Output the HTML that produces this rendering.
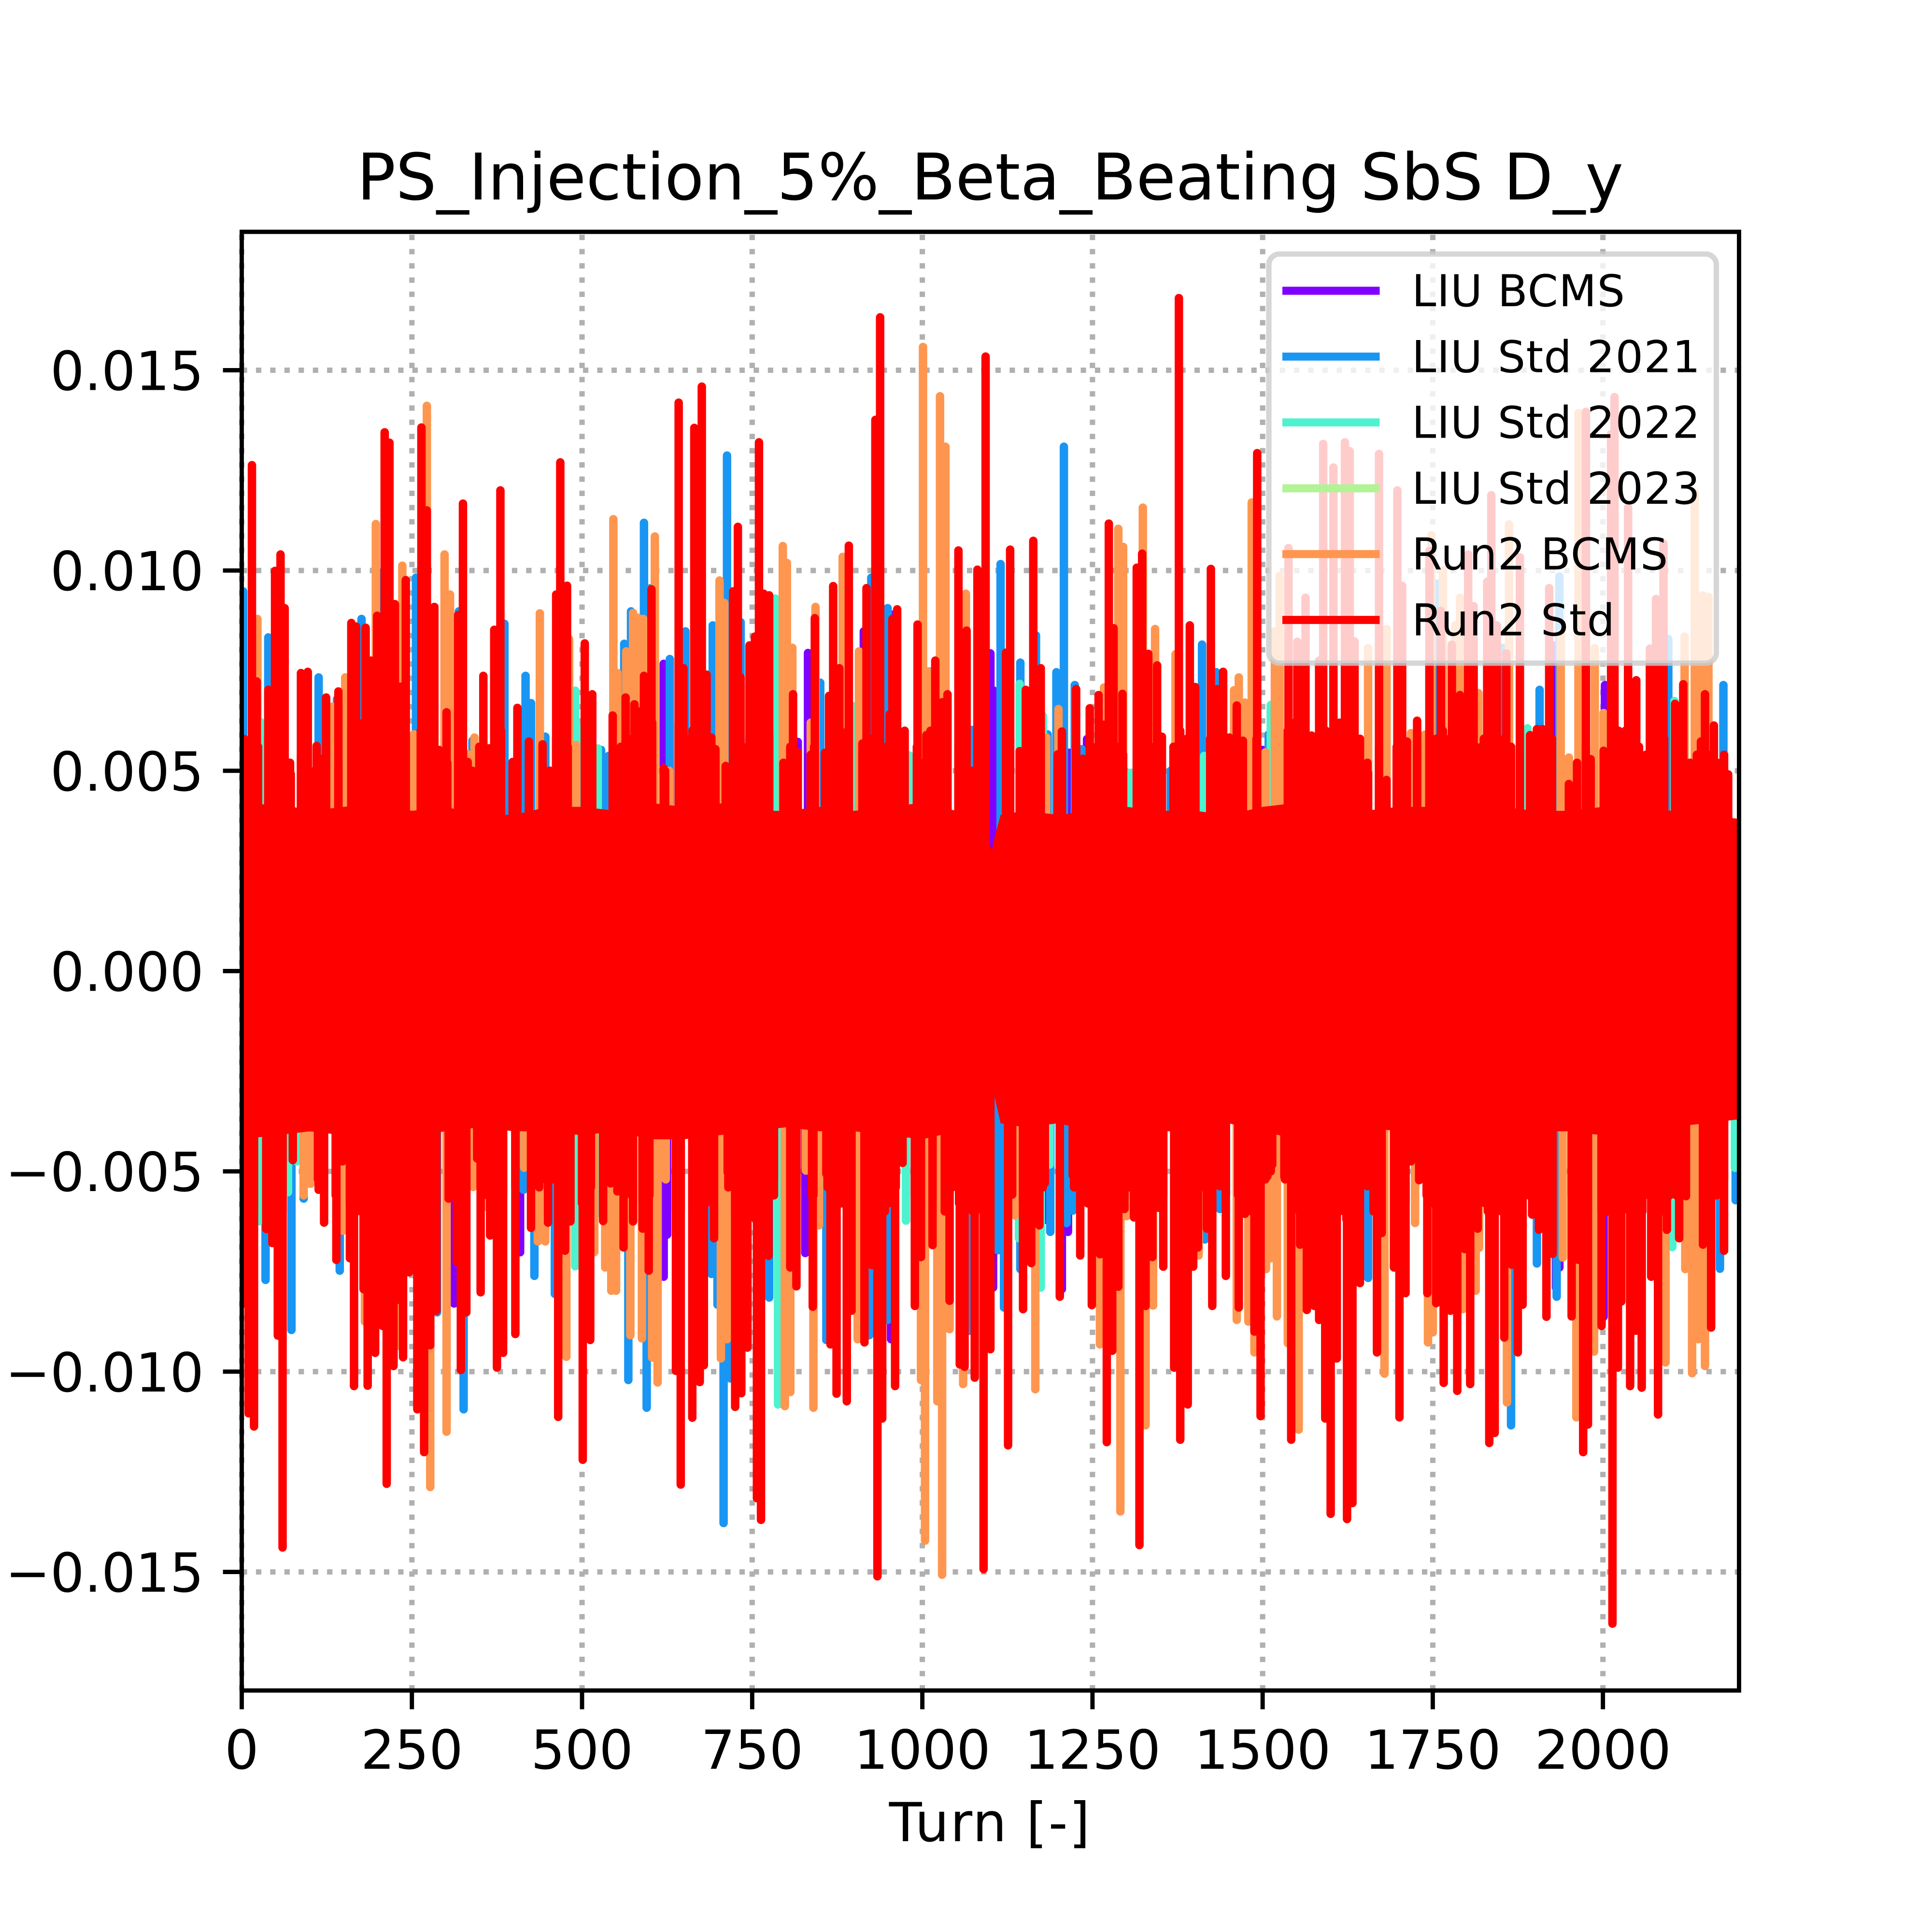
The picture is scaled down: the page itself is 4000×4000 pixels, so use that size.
<!DOCTYPE html>
<html lang="en">
<head>
<meta charset="utf-8">
<title>PS_Injection_5%_Beta_Beating SbS D_y</title>
<style>
html,body{margin:0;padding:0;background:#fff}
svg{display:block}
text{font-family:"DejaVu Sans","Liberation Sans",sans-serif;fill:#000}
</style>
</head>
<body>
<svg id="chart" xmlns="http://www.w3.org/2000/svg" width="4000" height="4000" viewBox="0 0 4000 4000">
<defs><clipPath id="plot-clip"><rect x="500.5" y="480" width="3100" height="3020"/></clipPath></defs>
<rect x="0" y="0" width="4000" height="4000" fill="#fff"/>
<g id="grid"></g>
<g id="series" clip-path="url(#plot-clip)"></g>
<g id="ticks"></g>
<rect x="500.5" y="480" width="3100" height="3020" fill="none" stroke="#000" stroke-width="8.89"/>
<text x="2050" y="413" font-size="133.3" text-anchor="middle">PS_Injection_5%_Beta_Beating SbS D_y</text>
<text x="2050" y="3812" font-size="111.1" letter-spacing="2.6" text-anchor="middle">Turn [-]</text>
<g>
<rect x="2627" y="526" width="926.5" height="847" rx="22" ry="22" fill="#fff" fill-opacity="0.8" stroke="#ccc" stroke-opacity="0.8" stroke-width="11.1"/>
<g><line x1="2655" x2="2856.5" y1="602" y2="602" stroke="#8000ff" stroke-width="16.67"/><text x="2923" y="634" font-size="90.5" letter-spacing="1.4">LIU BCMS</text></g>
<g><line x1="2655" x2="2856.5" y1="738.3" y2="738.3" stroke="#1996f3" stroke-width="16.67"/><text x="2923" y="770.3" font-size="90.5" letter-spacing="1.4">LIU Std 2021</text></g>
<g><line x1="2655" x2="2856.5" y1="874.6" y2="874.6" stroke="#4df3ce" stroke-width="16.67"/><text x="2923" y="906.6" font-size="90.5" letter-spacing="1.4">LIU Std 2022</text></g>
<g><line x1="2655" x2="2856.5" y1="1011" y2="1011" stroke="#b2f396" stroke-width="16.67"/><text x="2923" y="1043" font-size="90.5" letter-spacing="1.4">LIU Std 2023</text></g>
<g><line x1="2655" x2="2856.5" y1="1147.2" y2="1147.2" stroke="#ff964f" stroke-width="16.67"/><text x="2923" y="1179.2" font-size="90.5" letter-spacing="1.4">Run2 BCMS</text></g>
<g><line x1="2655" x2="2856.5" y1="1283.5" y2="1283.5" stroke="#ff0000" stroke-width="16.67"/><text x="2923" y="1315.5" font-size="90.5" letter-spacing="1.4">Run2 Std</text></g>
</g>
</svg>
<script>
const xTickValues = [0,250,500,750,1000,1250,1500,1750,2000];
const xTickLabels = ["0","250","500","750","1000","1250","1500","1750","2000"];
const yTickValues = [0.015,0.010,0.005,0,-0.005,-0.010,-0.015];
const yTickLabels = ["0.015","0.010","0.005","0.000","\u22120.005","\u22120.010","\u22120.015"];

// Peaks: turn of each excursion and its value.
const run2StdTurns = [
4,15,22,39,49,57,63,72,87,97,110,116,124,142,161,168,182,190,199,210,217,225,233,241,264,272,283,290,301,318,325,332,342,355,363,371,380,398,405,422,442,453,462,468,478,504,515,545,
564,577,585,591,602,620,642,649,665,676,683,690,696,711,722,729,733,746,754,760,767,775,810,817,842,857,863,869,878,892,912,918,931,938,952,956,963,974,993,1006,1019,1029,1037,1053,1065,1081,1093,
1123,1129,1143,1152,1163,1174,1199,1205,1226,1246,1259,1267,1274,1281,1294,1315,1323,1332,1345,1352,1377,1393,1401,1424,1433,1442,1451,1462,1471,1492,1538,1551,1563,1572,1583,1589,1604,1621,1628,1635,
1655,1671,1682,1698,1705,1712,1727,1745,1762,1778,1790,1802,1810,1818,1830,1836,1844,1858,1878,1893,1903,1911,1921,1950,1975,1982,2001,2012,2017,2037,2049,2069,2078,2089,2106,2118,2144,2150,2163,2184,
2,10,18,36,45,53,60,75,113,121,139,148,159,165,179,185,196,207,213,223,228,237,246,258,268,277,286,304,316,322,330,346,351,365,375,384,402,425,439,450,465,475,483,501,512,531,543,
561,575,589,598,638,645,662,673,679,694,714,725,734,743,757,763,774,782,806,815,839,859,865,874,889,896,915,926,934,941,960,971,989,998,1015,1033,1040,1055,1062,1077,1090,
1100,1126,1132,1148,1160,1172,1180,1202,1221,1232,1249,1261,1271,1279,1288,1297,1311,1319,1328,1338,1347,1354,1370,1379,1390,1398,1405,1418,1426,1437,1446,1465,1474,1488,1497,1507,1514,1532,1542,1555,1565,1576,1583,1592,1600,1609,1624,1632,1643,
1654,1668,1675,1693,1701,1710,1718,1730,1742,1755,1766,1776,1786,1797,1805,1816,1826,1833,1841,1855,1866,1875,1882,1896,1906,1917,1926,1954,1964,1971,1978,1998,2014,2022,2027,2040,2048,2057,2071,2081,2094,2112,2122,2147,2159,2178
];
const run2StdValues = [
.00579,.01263,.00723,.00702,.00999,.0104,.00906,.00492,.00744,.00747,.00562,.0053,.00683,.00698,.00869,.0086,.00857,.00775,.00887,.01345,.01319,.00916,.0071,.00976,.01357,.0115,.00909,.00552,.00646,.00889,.01167,.00522,.00492,.00737,.00556,.00852,.012,.00522,.00657,.00573,.00566,.005,.0094,.0127,.00962,.00818,.00691,.00638,
.00683,.00666,.00648,.00737,.00953,.00506,.01419,.00756,.01356,.01459,.0074,.00583,.00554,.00512,.00948,.01109,.00733,.00813,.00835,.0132,.00942,.00938,.00691,.00546,.00881,.00545,.00687,.00961,.00756,.01062,.00568,.00956,.01376,.01632,.00641,.00879,.00903,.006,.00865,.00589,.00775,.00671,.00691,.0105,.0085,.01002,.01534,
.00795,.01052,.00549,.00702,.01074,.00756,.00541,.00598,.00704,.00656,.00689,.00615,.01117,.00856,.00692,.01007,.01042,.00792,.00763,.00585,.0168,.00863,.00709,.01004,.00704,.00747,.00583,.00663,.00575,.01293,.01056,.00822,.00932,.00588,.00775,.01316,.01257,.0132,.01298,.00823,
.00495,.01291,.00477,.012,.00962,.00573,.00625,.01049,.00899,.00815,.00689,.0104,.00911,.00558,.00972,.01188,.00863,.00793,.01033,.00589,.00604,.00604,.00956,.00467,.01396,.00529,.0055,.0134,.01433,.01157,.00726,.00805,.00929,.01067,.00667,.00716,.00573,.00691,.00613,.00491,
-.0083,-.01104,-.01137,-.00644,-.00679,-.0091,-.01439,-.00472,-.00546,-.00628,-.00721,-.00475,-.00717,-.01036,-.00794,-.01035,-.00953,-.00886,-.0128,-.00986,-.00821,-.00964,-.00752,-.01094,-.01201,-.00934,-.00848,-.00568,-.00725,-.00996,-.00852,-.00468,-.00802,-.0066,-.0099,-.00953,-.00906,-.00641,-.00522,-.00628,-.01113,-.00698,-.00625,-.0122,-.00921,-.00624,-.00491,
-.0069,-.00625,-.00643,-.00748,-.00998,-.01282,-.01115,-.01026,-.00984,-.00667,-.00502,-.01088,-.01054,-.0094,-.01316,-.0137,-.00711,-.0056,-.0074,-.00787,-.00838,-.00506,-.00932,-.01055,-.01074,-.00848,-.00927,-.00734,-.01511,-.01117,-.01036,-.00479,-.00836,-.00714,-.00684,-.006,-.00823,-.00982,-.00988,-.01015,-.01493,
-.00944,-.01184,-.00558,-.00844,-.00729,-.00635,-.00529,-.00813,-.0051,-.0071,-.00834,-.00707,-.01176,-.00948,-.00788,-.00594,-.00615,-.01433,-.00836,-.00714,-.00591,-.00738,-.0099,-.0117,-.01082,-.00738,-.0069,-.00643,-.00836,-.00537,-.00761,-.0084,-.00606,-.009,-.01111,-.00512,-.00483,-.00514,-.0117,-.00683,-.00846,-.00836,-.00871,-.01117,-.01355,-.00967,-.01368,-.01328,-.00779,
-.00537,-.00952,-.00654,-.0074,-.01114,-.00804,-.00475,-.00522,-.00804,-.00829,-.01028,-.00848,-.01048,-.00694,-.01031,-.00643,-.00579,-.01178,-.01153,-.00915,-.00733,-.00952,-.00833,-.00608,-.00646,-.00863,-.00706,-.00862,-.00721,-.01201,-.01132,-.00886,-.01629,-.0099,-.00825,-.01036,-.00898,-.0104,-.00763,-.01107,-.00646,-.00667,-.00562,-.00683,-.0089,-.00698
];

// Shorter Run2 Std excursions: the shoulders around the solid core, top then bottom.
const run2StdShoulderTurns = [
7,17,24,39,49,59,71,87,97,107,123,142,161,171,181,191,201,211,221,231,240,263,273,283,293,302,319,329,339,349,359,369,381,402,422,442,452,462,472,479,504,514,
547,557,567,577,587,597,603,622,642,652,662,672,682,696,713,723,733,743,753,763,775,796,806,817,836,841,858,868,878,890,912,922,932,942,952,962,973,992,1002,1012,1022,1036,1053,1063,1073,1083,1092,
1123,1129,1145,1155,1165,1174,1199,1205,1226,1236,1246,1256,1266,1276,1286,1295,1316,1326,1336,1351,1369,1379,1389,1400,1423,1433,1443,1453,1469,1491,1537,1547,1563,
1583,1593,1603,1613,1623,1633,1643,1654,1671,1697,1705,1727,1745,1755,1765,1775,1785,1795,1805,1815,1825,1835,1845,1855,1865,1878,1894,1904,1914,1925,1962,1975,2003,2013,2023,2033,2043,2053,2063,2073,2083,2090,2108,2118,2128,2138,2148,2158,2168,2178,
7,18,37,47,60,112,120,138,159,169,179,189,199,209,219,229,244,261,271,286,306,316,328,351,361,371,384,402,427,437,447,457,467,481,500,513,
532,542,552,562,573,589,599,638,645,662,672,682,692,715,725,735,745,755,765,782,806,815,838,840,861,871,881,894,915,925,935,945,955,961,989,996,1015,1034,1044,1054,1064,1074,1089,
1126,1131,1148,1158,1168,1177,1202,1223,1233,1243,1253,1263,1273,1283,1293,1303,1313,1323,1333,1343,1354,1373,1383,1393,1403,1413,1423,1433,1446,1464,1474,1484,1494,1504,1512,
1533,1543,1553,1563,1573,1583,1593,1603,1613,1623,1633,1643,1653,1663,1674,1695,1710,1731,1741,1751,1761,1771,1781,1791,1801,1811,1821,1831,1841,1851,1861,1871,1881,1891,1901,1911,1924,1954,1964,1978,1998,2008,2018,2028,2038,2048,2058,2068,2078,2088,2098,2108,2120,2147,2157,2167,2178
];
const run2StdShoulderValues = [
.0053,.0051,.0056,.0058,.0055,.0060,.0052,.0054,.0057,.0050,.0053,.0051,.0060,.0062,.0058,.0061,.0059,.0060,.0057,.0062,.0058,.0060,.0058,.0056,.0053,.0052,.0058,.0052,.0050,.0056,.0053,.0054,.0060,.0052,.0053,.0052,.0050,.0058,.0060,.0056,.0056,.0054,
.0052,.0056,.0058,.0060,.0058,.0056,.0062,.0050,.0062,.0058,.0060,.0062,.0058,.0052,.0050,.0060,.0058,.0056,.0060,.0062,.0060,.0052,.0056,.0054,.0054,.0056,.0053,.0056,.0058,.0060,.0055,.0058,.0060,.0056,.0060,.0058,.0054,.0056,.0052,.0060,.0058,.0056,.0056,.0052,.0050,.0054,.0058,
.0056,.0058,.0053,.0055,.0056,.0058,.0052,.0054,.0056,.0053,.0055,.0056,.0054,.0058,.0056,.0054,.0060,.0058,.0056,.0052,.0056,.0060,.0058,.0056,.0058,.0056,.0054,.0052,.0054,.0058,.0060,.0062,.0052,
.0058,.0060,.0060,.0062,.0062,.0060,.0058,.0052,.0056,.0056,.0058,.0056,.0060,.0058,.0060,.0058,.0058,.0060,.0058,.0054,.0058,.0060,.0056,.0058,.0056,.0054,.0056,.0058,.0056,.0058,.0052,.0056,.0052,.0058,.0060,.0060,.0058,.0056,.0054,.0056,.0060,.0058,.0056,.0054,.0052,.0054,.0052,.0054,.0052,.0054,
-.0060,-.0060,-.0058,-.0060,-.0060,-.0052,-.0054,-.0056,-.0058,-.0060,-.0060,-.0060,-.0062,-.0062,-.0060,-.0060,-.0056,-.0058,-.0060,-.0058,-.0056,-.0058,-.0060,-.0054,-.0056,-.0058,-.0056,-.0054,-.0052,-.0054,-.0050,-.0052,-.0058,-.0056,-.0058,-.0054,
-.0052,-.0053,-.0055,-.0054,-.0056,-.0058,-.0056,-.0060,-.0060,-.0060,-.0060,-.0058,-.0056,-.0054,-.0060,-.0058,-.0060,-.0062,-.0062,-.0052,-.0056,-.0054,-.0056,-.0056,-.0054,-.0056,-.0058,-.0056,-.0056,-.0058,-.0062,-.0060,-.0058,-.0054,-.0056,-.0058,-.0058,-.0056,-.0054,-.0058,-.0058,-.0060,-.0060,
-.0056,-.0054,-.0058,-.0056,-.0056,-.0054,-.0056,-.0054,-.0056,-.0058,-.0060,-.0060,-.0060,-.0058,-.0056,-.0054,-.0060,-.0060,-.0056,-.0054,-.0056,-.0060,-.0060,-.0058,-.0056,-.0054,-.0056,-.0052,-.0056,-.0056,-.0054,-.0060,-.0060,-.0052,-.0050,
-.0052,-.0060,-.0056,-.0056,-.0060,-.0060,-.0062,-.0062,-.0060,-.0062,-.0062,-.0058,-.0052,-.0060,-.0056,-.0056,-.0058,-.0052,-.0056,-.0058,-.0060,-.0060,-.0060,-.0058,-.0056,-.0054,-.0052,-.0060,-.0060,-.0060,-.0060,-.0056,-.0058,-.0056,-.0054,-.0056,-.0056,-.0056,-.0056,-.0060,-.0060,-.0060,-.0062,-.0060,-.0058,-.0060,-.0060,-.0056,-.0058,-.0060,-.0056,-.0056,-.0052,-.0056,-.0058,-.0056,-.0052
];

// Solid core of the Run2 Std trace, read as upper and lower edges.
const run2StdCoreTurns = [0,50,100,150,200,250,300,350,400,450,500,550,600,650,700,750,800,850,900,950,1000,1050,1090,1097,1102,1107,1115,1150,1200,1250,1300,1350,1400,1450,1500,1550,1600,1650,1700,1750,1800,1850,1900,1950,2000,2050,2100,2150,2200];
const run2StdCoreTop = [.0041,.0042,.0040,.0041,.0042,.0040,.0041,.0039,.0039,.0041,.0041,.0040,.0042,.0041,.0042,.0040,.0040,.0041,.0040,.0041,.0042,.0040,.0038,.0033,.0030,.0034,.0039,.0040,.0039,.0040,.0041,.0040,.0040,.0039,.0041,.0042,.0041,.0040,.0041,.0041,.0042,.0041,.0040,.0040,.0041,.0041,.0040,.0039,.0038];
const run2StdCoreBottom = [-.0042,-.0041,-.0040,-.0041,-.0042,-.0041,-.0040,-.0039,-.0040,-.0040,-.0041,-.0040,-.0042,-.0042,-.0041,-.0040,-.0039,-.0040,-.0040,-.0041,-.0042,-.0040,-.0037,-.0032,-.0028,-.0032,-.0038,-.0039,-.0038,-.0040,-.0041,-.0040,-.0040,-.0038,-.0040,-.0042,-.0041,-.0039,-.0040,-.0041,-.0042,-.0041,-.0040,-.0040,-.0041,-.0040,-.0039,-.0038,-.0037];

const run2BcmsTurns = [
23,272,197,236,298,306,438,546,152,133,342,253,491,332,481,552,
565,575,582,590,607,628,702,709,795,801,809,843,836,883,907,1001,1008,1026,1034,1064,
1288,1295,1324,1342,1200,1267,1465,1458,1484,1525,1518,1372,1474,1182,1504,
1655,1682,1748,1765,1790,1783,1862,1938,1988,1964,2135,2120,2147,2155,1817,1718,1738,1950,2001,
91,101,149,277,301,340,362,435,446,415,477,518,543,534,232,181,
550,571,588,611,603,623,704,713,798,806,840,829,848,905,998,1004,1022,1029,1040,1060,
1136,1166,1261,1291,1300,1328,1339,1406,1462,1479,1488,1505,1512,1521,1537,1553,
1679,1724,1743,1750,1794,1813,1818,1859,1961,1987,2092,2121,2131,2140,2150,1941
];
const run2BcmsValues = [
.00879,.01411,.01116,.01012,.0104,.0094,.00893,.01128,.00733,.0066,.00583,.00591,.00564,.00541,.00829,.00744,
.00798,.00894,.00882,.00879,.01085,.005,.00975,.00919,.01061,.01019,.00807,.00909,.0062,.01034,.00798,.01558,.00748,.01435,.01309,.00942,
.01104,.01059,.01157,.00854,.00654,.00708,.00733,.00701,.0117,.00986,.00848,.00791,.0067,.00583,.00546,
.00806,.00854,.01088,.01001,.00932,.00863,.01115,.00844,.00806,.01393,.01194,.00835,.00938,.00934,.00694,.00594,.0059,.00533,.00644,
-.0056,-.00531,-.00648,-.01288,-.0115,-.00539,-.00591,-.00675,-.00675,-.00491,-.00963,-.00702,-.00798,-.0074,-.00936,-.00875,
-.00798,-.00909,-.00917,-.01027,-.00965,-.0052,-.00967,-.00919,-.01086,-.01051,-.0109,-.00498,-.00635,-.00919,-.01021,-.01422,-.01074,-.01507,-.00894,-.01031,
-.0061,-.01044,-.00932,-.01349,-.00612,-.01134,-.00835,-.0071,-.00871,-.00875,-.00952,-.00744,-.00717,-.00862,-.00929,-.01145,
-.01005,-.00629,-.00927,-.00902,-.00844,-.00798,-.00691,-.01077,-.01114,-.0095,-.00977,-.00744,-.01004,-.00919,-.00986,-.00715
];

const liuStd2021Turns = [
2,39,113,140,176,386,417,425,446,339,256,319,539,528,209,
572,562,591,601,629,652,692,713,733,850,925,949,1010,1073,
1115,1144,1197,1208,1167,1224,1234,1411,1432,1440,1184,1365,1509,
1756,1852,1907,1936,2096,2177,
35,73,91,144,287,326,414,430,460,
568,595,708,718,690,699,775,859,922,949,1069,
1111,1120,1188,1212,1221,1415,1437,1144,
1655,1865,1903,1932,2172,2195
];
const liuStd2021Values = [
.00948,.00833,.00733,.00679,.00879,.00867,.00737,.00669,.00585,.00575,.00982,.00898,.00537,.00552,.01,
.00898,.00817,.01119,.00956,.00779,.00848,.00863,.01287,.00871,.0072,.00982,.00906,.00748,.00602,
.01016,.0077,.00746,.01309,.00838,.00714,.00554,.00815,.00746,.00744,.00591,.005,.00591,
.00967,.00807,.00702,.00985,.00829,.00714,
-.00771,-.00896,-.00568,-.00748,-.00852,-.01094,-.00546,-.00761,-.00806,
-.01021,-.0109,-.01378,-.01017,-.00756,-.00833,-.00815,-.00921,-.00909,-.00871,-.00898,
-.00697,-.0084,-.00651,-.00629,-.00598,-.0067,-.00594,-.00744,
-.00766,-.01134,-.0073,-.00813,-.00743,-.00572
];

const liuStd2022Turns = [28,490,495,523,784,899,981,1143,1177,1414,1512,1307,1889,2105,25,68,81,490,523,788,976,1187,1174,1142,2102,2194];
const liuStd2022Values = [.00621,.007,.00608,.00556,.0093,.00661,.00538,.00717,.00637,.00537,.00664,.00495,.00606,.00674,-.00625,-.00552,-.00475,-.00737,-.00604,-.01082,-.00623,-.00483,-.0079,-.00667,-.00689,-.00491];

const liuBcmsTurns = [620,832,914,955,817,1100,1105,1216,1242,1500,2003,1930,312,409,620,625,828,954,1104,1181,1205,1214,2001,1936,1931];
const liuBcmsValues = [.00767,.00794,.00848,.0089,.00572,.00793,.007,.00545,.00579,.00552,.00714,.00813,-.0083,-.00702,-.00763,-.00658,-.00704,-.00919,-.0079,-.00621,-.00794,-.00651,-.00863,-.0074,-.0079];

const liuStd2023Turns = [120,480,900,1300,1700,2100];
const liuStd2023Values = [.0038,-.0036,.0035,-.0039,.0037,-.0034];

const X0 = 500.5, X_PER_TURN = 3100 / 2200, Y0 = 2010.5, Y_PER_UNIT = 82933;
function xScale(t){ return X0 + t * X_PER_TURN; }
function yScale(v){ return Y0 - v * Y_PER_UNIT; }
const NS = "http://www.w3.org/2000/svg";
function make(tag, attrs, parent){
  const node = document.createElementNS(NS, tag);
  for (const k in attrs) node.setAttribute(k, attrs[k]);
  parent.appendChild(node);
  return node;
}
const gridG = document.getElementById("grid");
const ticksG = document.getElementById("ticks");
const seriesG = document.getElementById("series");

xTickValues.forEach((t, i) => {
  const gl = make("line", {x1:xScale(t), x2:xScale(t), y1:3500, y2:480, stroke:"#b0b0b0", "stroke-width":11.1, "stroke-dasharray":"11.11 18.33"}, gridG);
  
  
  const tk = make("line", {x1:xScale(t), x2:xScale(t), y1:3500, y2:3538.9, stroke:"#000", "stroke-width":8.89}, ticksG);
  
  
  const lb = make("text", {x:xScale(t), y:3662, "font-size":111.1, "text-anchor":"middle"}, ticksG);
  lb.textContent = xTickLabels[i];
  
  
});
yTickValues.forEach((v, i) => {
  const gl = make("line", {x1:500.5, x2:3600.5, y1:yScale(v), y2:yScale(v), stroke:"#b0b0b0", "stroke-width":11.1, "stroke-dasharray":"11.11 18.33"}, gridG);
  
  
  const tk = make("line", {x1:500.5, x2:461.6, y1:yScale(v), y2:yScale(v), stroke:"#000", "stroke-width":8.89}, ticksG);
  
  
  const lb = make("text", {x:422, y:yScale(v) + 41, "font-size":111.1, "text-anchor":"end"}, ticksG);
  lb.textContent = yTickLabels[i];
  
  
});

function drawSeries(turns, values, color){
  let d = "";
  const n = Math.min(turns.length, values.length);
  for (let i = 0; i < n; i++) {
    const x = xScale(turns[i]).toFixed(1);
    d += "M" + x + " " + yScale(0).toFixed(1) + "L" + x + " " + yScale(values[i]).toFixed(1);
  }
  return make("path", {d:d, fill:"none", stroke:color, "stroke-width":17.5, "stroke-linecap":"round", "stroke-linejoin":"round"}, seriesG);
}
const lineLiuBcms = drawSeries(liuBcmsTurns, liuBcmsValues, "#8000ff");


const lineLiu2021 = drawSeries(liuStd2021Turns, liuStd2021Values, "#1996f3");


const lineLiu2022 = drawSeries(liuStd2022Turns, liuStd2022Values, "#4df3ce");


const lineLiu2023 = drawSeries(liuStd2023Turns, liuStd2023Values, "#b2f396");


const lineRun2Bcms = drawSeries(run2BcmsTurns, run2BcmsValues, "#ff964f");


const lineRun2Std = drawSeries(run2StdTurns, run2StdValues, "#ff0000");


const lineRun2Shoulders = drawSeries(run2StdShoulderTurns, run2StdShoulderValues, "#ff0000");



let coreD = "";
run2StdCoreTurns.forEach((t, i) => {
  coreD += (i ? "L" : "M") + xScale(t).toFixed(1) + " " + yScale(run2StdCoreTop[i]).toFixed(1);
});
for (let i = run2StdCoreTurns.length - 1; i >= 0; i--) {
  coreD += "L" + xScale(run2StdCoreTurns[i]).toFixed(1) + " " + yScale(run2StdCoreBottom[i]).toFixed(1);
}
const coreBand = make("path", {d:coreD + "Z", fill:"#ff0000"}, seriesG);


</script>
</body>
</html>
